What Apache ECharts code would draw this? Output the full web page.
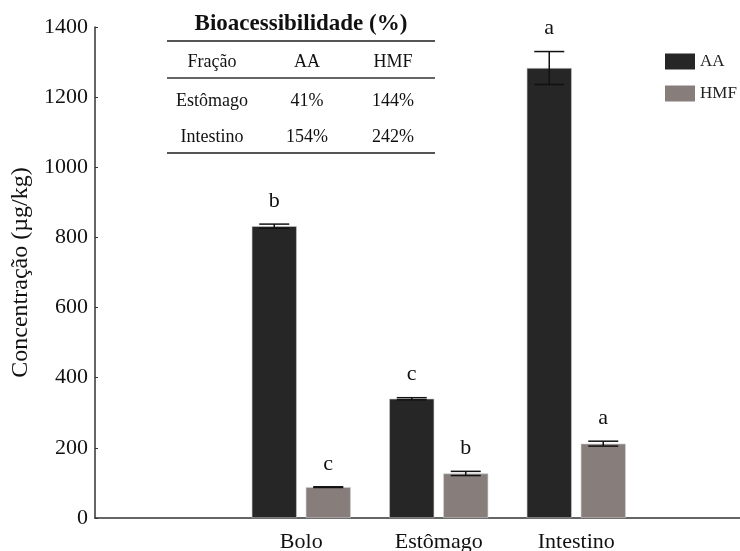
<!DOCTYPE html>
<html>
<head>
<meta charset="utf-8">
<script src="https://cdn.jsdelivr.net/npm/echarts@6/dist/echarts.min.js"></script>
<style>
html,body{margin:0;padding:0;background:#fff;}
#c{width:740px;height:551px;}
</style>
</head>
<body>
<div id="c"></div>
<script>
// ---- data ----
var categories = ['', 'Bolo', 'Estômago', 'Intestino', ''];
var seriesNames = ['AA', 'HMF'];
var aaValues = [null, 832, 340, 1283, null];
var aaErrors = [null, 6, 3, 47, null];
var aaLetters = ['', 'b', 'c', 'a', ''];
var hmfValues = [null, 88, 127, 212, null];
var hmfErrors = [null, 1, 6, 7, null];
var hmfLetters = ['', 'c', 'b', 'a', ''];
var yTicks = [0, 200, 400, 600, 800, 1000, 1200, 1400];
var tableTitle = 'Bioacessibilidade (%)';
var tableHeader = ['Fração', 'AA', 'HMF'];
var tableRows = [['Estômago', '41%', '144%'], ['Intestino', '154%', '242%']];

var FONT = '"Liberation Serif", "DejaVu Serif", serif';
var BAR_W = 45, BAR_GAP = 9;
var colors = ['#262626', '#877e7c'];

var chart = echarts.init(document.getElementById('c'));

function errItem(values, errors, letters, offsetSign) {
  return function (params, api) {
    var i = api.value(0);
    var v = api.value(1);
    var e = api.value(2);
    var base = api.coord([i, v]);
    var x = base[0] + offsetSign * (BAR_W + BAR_GAP) / 2;
    var top = api.coord([i, v + e])[1];
    var bot = api.coord([i, v - e])[1];
    var cap = 15;
    var st = {stroke: '#111', lineWidth: 1.5};
    return {
      type: 'group',
      children: [
        {type: 'line', shape: {x1: x, y1: top, x2: x, y2: bot}, style: st},
        {type: 'line', shape: {x1: x - cap, y1: top, x2: x + cap, y2: top}, style: st},
        {type: 'line', shape: {x1: x - cap, y1: bot, x2: x + cap, y2: bot}, style: st},
        {type: 'text', style: {text: letters[i], x: x, y: top - 12, textAlign: 'center', textVerticalAlign: 'bottom',
          font: '22px ' + FONT, fill: '#111'}}
      ]
    };
  };
}

function errData(values, errors) {
  var d = [];
  for (var i = 0; i < values.length; i++) {
    if (values[i] != null) d.push([i, values[i], errors[i]]);
  }
  return d;
}

// table graphic
var tblX = 167, tblW = 268;
var colX = [212, 307, 393];
var graphic = [
  {type: 'text', style: {text: tableTitle, x: 301, y: 24, textAlign: 'center', textVerticalAlign: 'middle',
    font: 'bold 23px ' + FONT, fill: '#111'}},
  {type: 'line', shape: {x1: tblX, y1: 41, x2: tblX + tblW, y2: 41}, style: {stroke: '#555', lineWidth: 2}},
  {type: 'line', shape: {x1: tblX, y1: 78, x2: tblX + tblW, y2: 78}, style: {stroke: '#333', lineWidth: 1.5}},
  {type: 'line', shape: {x1: tblX, y1: 153, x2: tblX + tblW, y2: 153}, style: {stroke: '#555', lineWidth: 2}}
];
var rowsAll = [tableHeader].concat(tableRows);
var rowY = [62, 101, 137];
rowsAll.forEach(function (row, r) {
  row.forEach(function (cell, c) {
    graphic.push({type: 'text', style: {text: cell, x: colX[c], y: rowY[r], textAlign: 'center', textVerticalAlign: 'middle',
      font: '18px ' + FONT, fill: '#111'}});
  });
});

chart.setOption({
  animation: false,
  backgroundColor: '#fff',
  grid: {left: 95, right: -42.5, top: 27, bottom: 33, containLabel: false, outerBoundsMode: 'none'},
  legend: {
    data: seriesNames,
    orient: 'vertical',
    left: 660, top: 48,
    itemWidth: 30, itemHeight: 16, itemGap: 15,
    textStyle: {fontFamily: FONT, fontSize: 17, color: '#222'},
    itemStyle: {borderWidth: 0},
    icon: 'rect'
  },
  xAxis: {
    type: 'category',
    data: categories,
    axisLine: {lineStyle: {color: '#333', width: 1.5}},
    axisTick: {show: false},
    axisLabel: {fontFamily: FONT, fontSize: 22, color: '#111', margin: 13, interval: 0}
  },
  yAxis: {
    type: 'value',
    min: yTicks[0], max: yTicks[yTicks.length - 1], interval: yTicks[1] - yTicks[0],
    name: 'Concentração (µg/kg)',
    nameLocation: 'middle',
    nameGap: 62,
    nameTextStyle: {fontFamily: FONT, fontSize: 24, color: '#111'},
    axisLine: {show: true, lineStyle: {color: '#333', width: 1.5}},
    axisTick: {show: true, inside: true, length: 3, lineStyle: {color: '#333'}},
    axisLabel: {fontFamily: FONT, fontSize: 22, color: '#111', margin: 7,
      formatter: function (v) { return String(v); }},
    splitLine: {show: false}
  },
  graphic: graphic,
  series: [
    {name: seriesNames[0], type: 'bar', data: aaValues, barWidth: BAR_W, barGap: (BAR_GAP / BAR_W * 100) + '%',
      itemStyle: {color: colors[0], borderColor: '#c8c8c8', borderWidth: 0.6}},
    {name: seriesNames[1], type: 'bar', data: hmfValues, barWidth: BAR_W,
      itemStyle: {color: colors[1], borderColor: '#d0d0d0', borderWidth: 0.6}},
    {type: 'custom', renderItem: errItem(aaValues, aaErrors, aaLetters, -1), data: errData(aaValues, aaErrors), z: 10,
      encode: {x: 0, y: 1}, silent: true},
    {type: 'custom', renderItem: errItem(hmfValues, hmfErrors, hmfLetters, 1), data: errData(hmfValues, hmfErrors), z: 10,
      encode: {x: 0, y: 1}, silent: true}
  ]
});
</script>
</body>
</html>
